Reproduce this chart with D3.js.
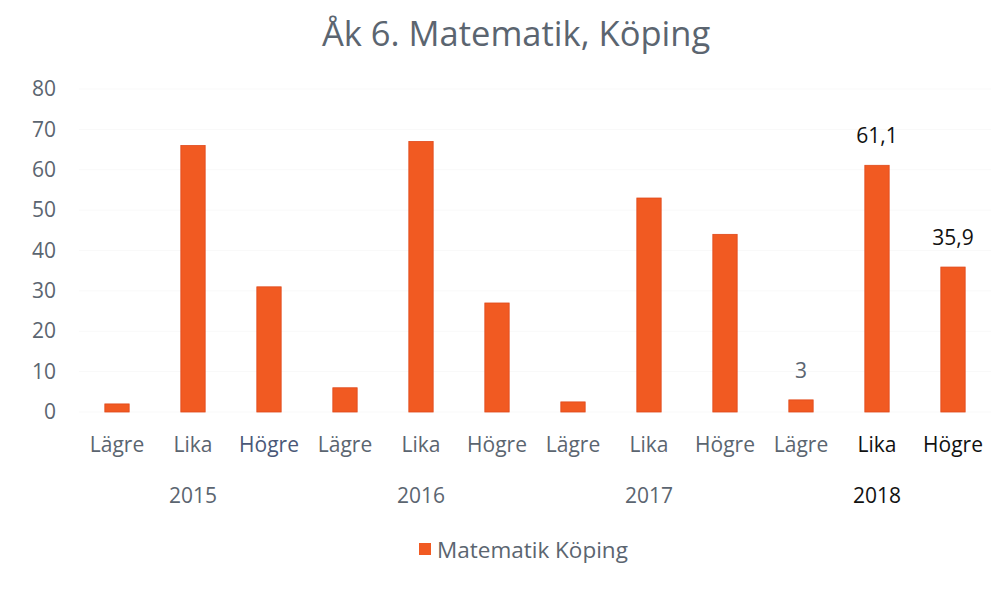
<!DOCTYPE html>
<html><head><meta charset="utf-8">
<script src="https://cdn.jsdelivr.net/npm/d3@7"></script>
<style>body{margin:0;background:#fff}svg{display:block}text{font-family:"Open Sans",sans-serif}</style>
</head><body><svg id="c" width="1008" height="589"></svg>
<script>
const years = ["2015","2016","2017","2018"];
const groups = ["Lägre","Lika","Högre"];
const values = [2, 66, 31, 6, 67, 27, 2.5, 53, 44, 3, 61.1, 35.9];
const yTicks = [0,10,20,30,40,50,60,70,80];
const dataLabels = {9:"3", 10:"61,1", 11:"35,9"};
const seriesName = "Matematik Köping";
const title = "Åk 6. Matematik, Köping";

const cats = [];
years.forEach(y => groups.forEach(g => cats.push({year:y, group:g})));
cats.forEach((c,i)=>c.value=values[i]);

const svg = d3.select("#c");
const x = d3.scaleBand().domain(d3.range(cats.length)).range([79, 991]).paddingInner(0.68).paddingOuter(0.34);
const y = d3.scaleLinear().domain([0,80]).range([412, 89]);
const grey = "#5b6570";

svg.append("text").attr("x",516).attr("y",46).attr("text-anchor","middle")
  .attr("font-size",34.5).attr("fill",grey).text(title);

// gridlines
svg.append("g").selectAll("line").data(yTicks).join("line")
  .attr("x1",79).attr("x2",991).attr("y1",d=>y(d)).attr("y2",d=>y(d))
  .attr("stroke","#f9f9f9").attr("stroke-width",1);

// y axis
const ya = svg.append("g").attr("transform","translate(56,0)")
  .call(d3.axisLeft(y).tickValues(yTicks).tickSize(0).tickPadding(0));
ya.select(".domain").remove();
ya.selectAll("text").attr("font-size",21).attr("fill",grey).attr("font-family","Open Sans");

// bars
svg.append("g").selectAll("rect").data(cats).join("rect")
  .attr("x",(d,i)=>x(i)).attr("width",x.bandwidth())
  .attr("y",d=>y(d.value)).attr("height",d=>y(0)-y(d.value))
  .attr("fill","#f15a22").attr("stroke","#e0481a").attr("stroke-width",0.8);

// data labels
svg.append("g").selectAll("text").data(Object.keys(dataLabels)).join("text")
  .attr("x",i=>x(+i)+x.bandwidth()/2).attr("y",i=>y(values[i])-22)
  .attr("text-anchor","middle").attr("font-size",21)
  .attr("fill",i=> +i===9 ? grey : "#111").text(i=>dataLabels[i]);

// x axis category labels
const xa = svg.append("g").attr("transform","translate(0,434)")
  .call(d3.axisBottom(x).tickSize(0).tickPadding(0).tickFormat(i=>cats[i].group));
xa.select(".domain").remove();
xa.selectAll("text").attr("font-size",21).attr("dy","0.85em").attr("font-family","Open Sans")
  .attr("fill",(i)=> i>=10 ? "#111" : (i===2 ? "#4a5878" : grey));

// year labels
svg.append("g").selectAll("text").data(years).join("text")
  .attr("x",(d,k)=>x(k*3+1)+x.bandwidth()/2).attr("y",503).attr("text-anchor","middle")
  .attr("font-size",21).attr("fill",(d,k)=>k===3?"#111":grey).text(d=>d);

// legend
const lg = svg.append("g");
lg.append("rect").attr("x",419).attr("y",543).attr("width",12).attr("height",12).attr("fill","#f15a22");
lg.append("text").attr("x",437).attr("y",558).attr("font-size",22.5).attr("fill",grey).text(seriesName);
</script></body></html>
